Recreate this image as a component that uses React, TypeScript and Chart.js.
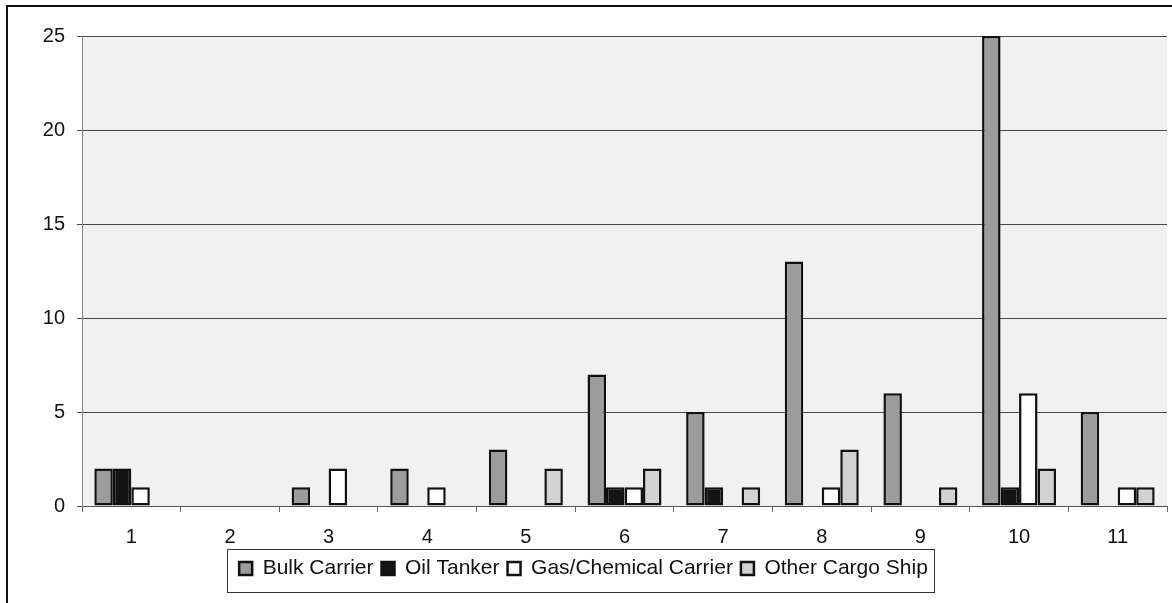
import { useEffect, useRef } from "react";
import { Chart, registerables } from "chart.js";

Chart.register(...registerables);

const categories = ["1", "2", "3", "4", "5", "6", "7", "8", "9", "10", "11"];
const bulkCarrier = [2, 0, 1, 2, 3, 7, 5, 13, 6, 25, 5];
const oilTanker = [2, 0, 0, 0, 0, 1, 1, 0, 0, 1, 0];
const gasChemicalCarrier = [1, 0, 2, 1, 0, 1, 0, 1, 0, 6, 1];
const otherCargoShip = [0, 0, 0, 0, 2, 2, 1, 3, 1, 2, 1];
const seriesNames = ["Bulk Carrier", "Oil Tanker", "Gas/Chemical Carrier", "Other Cargo Ship"];
const yMin = 0;
const yMax = 25;
const yStep = 5;

const FONT = "'Liberation Sans', Arial, sans-serif";

const plotBackground = {
  id: "plotBackground",
  beforeDraw(chart: any) {
    const { ctx, chartArea } = chart;
    ctx.save();
    ctx.fillStyle = "#f1f1f1";
    ctx.fillRect(chartArea.left, chartArea.top, chartArea.right - chartArea.left, chartArea.bottom - chartArea.top);
    ctx.restore();
  },
};

const legendFrame = {
  id: "legendFrame",
  afterDraw(chart: any) {
    const lg = chart.legend;
    if (!lg || !lg.legendHitBoxes || !lg.legendHitBoxes.length) return;
    let x0 = Infinity, x1 = -Infinity, y0 = Infinity, y1 = -Infinity;
    for (const b of lg.legendHitBoxes) {
      x0 = Math.min(x0, b.left);
      x1 = Math.max(x1, b.left + b.width);
      y0 = Math.min(y0, b.top);
      y1 = Math.max(y1, b.top + b.height);
    }
    const ctx = chart.ctx;
    ctx.save();
    ctx.strokeStyle = "#333";
    ctx.lineWidth = 1;
    ctx.strokeRect(Math.round(x0 - 12) + 0.5, Math.round(y0 - 9) + 0.5, Math.round(x1 - x0 + 18), Math.round(y1 - y0 + 22));
    ctx.restore();
  },
};

export default function App() {
  const ref = useRef<HTMLCanvasElement | null>(null);

  useEffect(() => {
    if (!ref.current) return;
    const colors = ["#9c9c9c", "#141414", "#ffffff", "#d2d2d2"];
    const series = [bulkCarrier, oilTanker, gasChemicalCarrier, otherCargoShip];
    const chart = new Chart(ref.current, {
      type: "bar",
      data: {
        labels: categories,
        datasets: series.map((vals, i) => ({
          label: seriesNames[i],
          data: vals,
          backgroundColor: colors[i],
          borderColor: "#111",
          borderWidth: 2.5,
          borderSkipped: false,
          barPercentage: 1,
          categoryPercentage: 0.75,
        })),
      },
      options: {
        responsive: false,
        animation: false,
        devicePixelRatio: 1,
        layout: { padding: { left: 0, right: 5, top: 36, bottom: 14 } },
        plugins: {
          tooltip: { enabled: false },
          legend: {
            position: "bottom",
            labels: {
              boxWidth: 13,
              boxHeight: 13,
              padding: 8,
              color: "#111",
              font: { family: FONT, size: 21 },
            },
          },
        },
        scales: {
          x: {
            offset: true,
            grid: {
              offset: true,
              drawOnChartArea: false,
              drawTicks: true,
              tickLength: 6,
              color: "#666",
            },
            border: { display: true, color: "#555", width: 1 },
            ticks: {
              color: "#111",
              padding: 13,
              font: { family: FONT, size: 20 },
              maxRotation: 0,
            },
            afterFit(scale: any) {
              scale.height = 44;
            },
          },
          y: {
            min: yMin,
            max: yMax,
            grid: {
              color: "#4a4a4a",
              lineWidth: 1,
              drawTicks: true,
              tickLength: 5,
            },
            border: { display: true, color: "#888", width: 1 },
            ticks: {
              stepSize: yStep,
              color: "#111",
              padding: 12,
              font: { family: FONT, size: 20 },
            },
            afterFit(scale: any) {
              scale.width = 82;
            },
          },
        },
      },
      plugins: [plotBackground, legendFrame],
    });
    return () => chart.destroy();
  }, []);

  return (
    <div style={{ position: "fixed", left: 0, top: 0, width: 1172, height: 603, background: "#fff", overflow: "hidden" }}>
      <div
        style={{
          position: "absolute",
          left: 6,
          top: 5,
          width: 1200,
          height: 596,
          borderTop: "2px solid #111",
          borderLeft: "2px solid #111",
          borderBottom: "1px solid #bbb",
        }}
      />
      <canvas ref={ref} width={1172} height={603} style={{ position: "absolute", left: 0, top: 0 }} />
    </div>
  );
}
